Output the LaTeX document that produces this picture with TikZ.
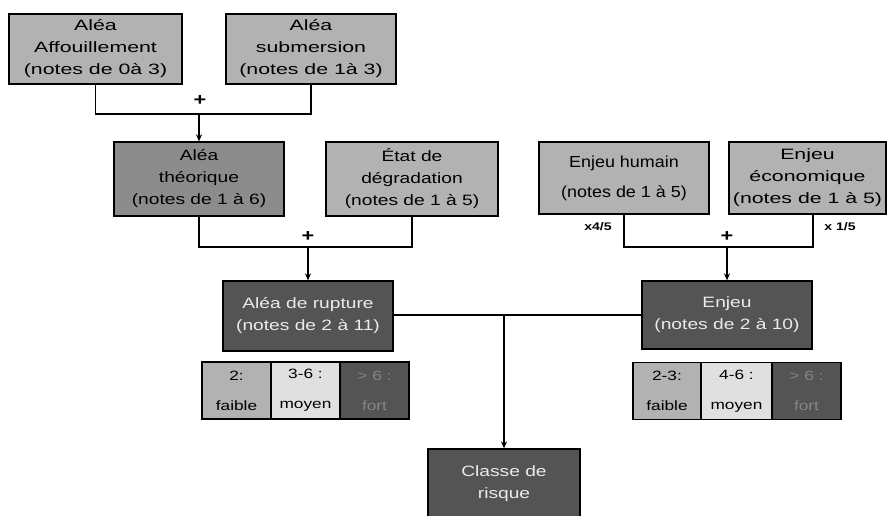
\documentclass[tikz,border=0pt]{standalone}
\usepackage{fontspec}
\setmainfont[FakeStretch=1.28]{Liberation Sans}
\newfontfamily\narrowfont[FakeStretch=1.12]{Liberation Sans}
\newfontfamily\widefont[FakeStretch=1.42]{Liberation Sans}
\usetikzlibrary{arrows.meta}

\begin{document}
\begin{tikzpicture}[x=1pt,y=-1pt,
  box/.style={draw=black, line width=1.3pt, align=center, inner sep=0pt,
    font=\fontsize{15}{22}\selectfont},
  lightbox/.style={box, fill=black!30},
  midbox/.style={box, fill=black!45},
  darkbox/.style={box, fill=black!67, text=black!8},
  cell/.style={draw=black, line width=1.1pt, align=center, inner sep=0pt,
    font=\fontsize{13.5}{30}\selectfont, minimum height=57pt},
  link/.style={line width=1.3pt},
  arr/.style={link, -{Stealth[length=7pt,width=6pt]}},
  sign/.style={font=\bfseries\fontsize{17}{17}\selectfont, inner sep=0pt},
  factor/.style={font=\bfseries\fontsize{11}{11}\selectfont, inner sep=0pt}
]
\fill[white] (0,0) rectangle (889,516);
\useasboundingbox (0,0) rectangle (889,516);

% first level: hazard components
\node[lightbox, minimum width=173pt, minimum height=70pt,
  font=\widefont\fontsize{15}{22}\selectfont] (aff) at (95.5,49)
  {Aléa\\Affouillement\\(notes de 0à 3)};
\node[lightbox, minimum width=170pt, minimum height=70pt,
  font=\widefont\fontsize{15}{22}\selectfont] (sub) at (311,49)
  {Aléa\\submersion\\(notes de 1à 3)};

% second level
\node[midbox, minimum width=170pt, minimum height=74pt] (theo) at (199,179)
  {Aléa\\théorique\\(notes de 1 à 6)};
\node[lightbox, minimum width=172pt, minimum height=74pt] (etat) at (412,179)
  {État de\\dégradation\\(notes de 1 à 5)};
\node[lightbox, minimum width=170pt, minimum height=72pt,
  font=\narrowfont\fontsize{16}{30}\selectfont] (hum) at (624,178)
  {Enjeu humain\\(notes de 1 à 5)};
\node[lightbox, minimum width=157pt, minimum height=72pt,
  font=\widefont\fontsize{15}{22}\selectfont] (eco) at (807.5,178)
  {Enjeu\\économique\\(notes de 1 à 5)};

% third level
\node[darkbox, minimum width=170pt, minimum height=70pt] (rup) at (308,316)
  {Aléa de rupture\\(notes de 2 à 11)};
\node[darkbox, minimum width=170pt, minimum height=68pt] (enj) at (727,315)
  {Enjeu\\(notes de 2 à 10)};

% result
\node[darkbox, minimum width=152pt, minimum height=70pt] (classe) at (504,484)
  {Classe de\\risque};

% scales
\node[cell, fill=black!30, minimum width=69pt] (ra) at (236.5,390.5) {2:\\faible};
\node[cell, fill=black!12, minimum width=69pt] (rb) at (305.5,390.5) {3-6 :\\moyen};
\node[cell, fill=black!67, text=black!48, minimum width=69pt] (rc) at (374.5,390.5) {> 6 :\\fort};
\node[cell, fill=black!30, minimum width=68pt] (ea) at (667,391) {2-3:\\faible};
\node[cell, fill=black!12, minimum width=71pt] (eb) at (736.5,391) {4-6 :\\moyen};
\node[cell, fill=black!67, text=black!48, minimum width=69pt] (ec) at (806.5,391) {> 6 :\\fort};

% junctions
\coordinate (j1) at (199,114);
\coordinate (j2) at (308,247);
\coordinate (j3) at (727,247);
\coordinate (j4) at (504,315);

% connectors
\draw[link] (aff.south) |- (j1) -| (sub.south);
\draw[arr] (j1) -- (theo.north);
\draw[link] (theo.south) |- (j2) -| (etat.south);
\draw[arr] (j2) -- (rup.north);
\draw[link] (hum.south) |- (j3) -| ([xshift=5.5pt]eco.south);
\draw[arr] (j3) -- (enj.north);
\draw[link] (rup.east |- j4) -- (enj.west |- j4);
\draw[arr] (j4) -- (classe.north);

% operators
\node[sign] (p1) at (200,101) {+};
\node[sign] (p2) at (308,237) {+};
\node[sign] (p3) at (727,237) {+};
\node[factor] (f1) at (598,227) {x4/5};
\node[factor] (f2) at (840,227) {x 1/5};
\end{tikzpicture}
\end{document}
